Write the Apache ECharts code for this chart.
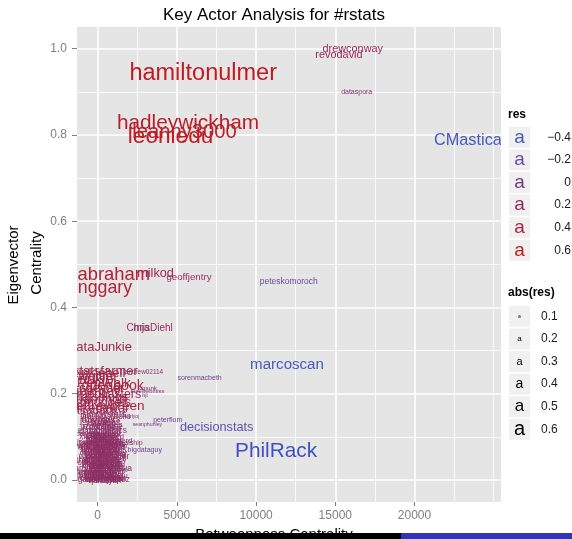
<!DOCTYPE html>
<html>
<head>
<meta charset="utf-8">
<title>Key Actor Analysis for #rstats</title>
<script src="https://cdn.jsdelivr.net/npm/echarts@6/dist/echarts.min.js"></script>
<style>
    html, body { margin: 0; padding: 0; background: #fff; }
    #chart { width: 572px; height: 539px; }
</style>
</head>
<body>
<div id="chart"></div>
<script>
// [name, betweenness, eigenvector, res]
const keyActors = [
    ['hamiltonulmer', 6660, 0.943, 0.65],
    ['hadleywickham', 5700, 0.826, 0.56],
    ['leanny3000', 5480, 0.807, 0.54],
    ['leoniedu', 4600, 0.796, 0.62],
    ['drewconway', 16100, 1.000, 0.23],
    ['revodavid', 15230, 0.986, 0.23],
    ['dataspora', 16350, 0.900, 0.10],
    ['CMastication', 24200, 0.787, -0.41],
    ['jonabraham', 240, 0.475, 0.48],
    ['jonggary', 20, 0.444, 0.46],
    ['milkod', 3650, 0.478, 0.29],
    ['geoffjentry', 5760, 0.471, 0.19],
    ['peteskomoroch', 12060, 0.461, -0.15],
    ['ChrisDiehl', 3280, 0.352, 0.20],
    ['mja', 2770, 0.352, 0.20],
    ['DataJunkie', 110, 0.308, 0.30],
    ['marcoscan', 11950, 0.268, -0.37],
    ['andrew02114', 2920, 0.251, 0.08],
    ['sorenmacbeth', 6430, 0.237, -0.10],
    ['cipunk', 3180, 0.213, 0.07],
    ['surewebmiss', 3140, 0.206, 0.06],
    ['hjl', 2990, 0.195, 0.05],
    ['earlyoj', 2150, 0.147, 0.03],
    ['peterflom', 4420, 0.139, -0.10],
    ['seanphunley', 3140, 0.129, -0.04],
    ['decisionstats', 7510, 0.122, -0.29],
    ['PhilRack', 11260, 0.066, -0.56],
    ['walship', 2100, 0.086, 0.10],
    ['bigdataguy', 2970, 0.070, -0.10],
    ['mcaffary', 1280, 0.024, 0.05]
];

// low-betweenness crowd near the origin
const crowdActors = [
    ['rstatsfarmer', 350, 0.252, 0.30],
    ['tinklebell', 150, 0.246, 0.30],
    ['aiqitler', 0, 0.240, 0.32],
    ['rinkle', -100, 0.232, 0.34],
    ['SPenWalk', 100, 0.224, 0.32],
    ['openbook', 950, 0.218, 0.34],
    ['cgeyser', 250, 0.212, 0.30],
    ['jbergey', 50, 0.206, 0.32],
    ['rpodcasters', 700, 0.198, 0.28],
    ['statsblogs', 150, 0.192, 0.28],
    ['quantmod', 0, 0.186, 0.30],
    ['kdnuggets', 300, 0.180, 0.28],
    ['jeffreybreen', 700, 0.172, 0.32],
    ['mikedewar', 100, 0.166, 0.28],
    ['tsadata', -100, 0.160, 0.26],
    ['simplystats', 400, 0.152, 0.16],
    ['timelyportfolio', 500, 0.146, 0.14],
    ['rbloggers', 200, 0.141, 0.18],
    ['jebyrnes', 0, 0.137, 0.18],
    ['rtweeps', 500, 0.133, 0.14],
    ['statalgo', 200, 0.130, 0.15],
    ['dmbates', 600, 0.127, 0.13],
    ['ozdatamine', 250, 0.124, 0.14],
    ['RevoJoe', 100, 0.121, 0.15],
    ['harlanh', 700, 0.118, 0.12],
    ['econometrics', 300, 0.115, 0.14],
    ['datamining', 150, 0.112, 0.15],
    ['ajdamico', 500, 0.110, 0.12],
    ['bayesianboy', 0, 0.107, 0.13],
    ['cdrstats', 400, 0.104, 0.12],
    ['rstudio', 350, 0.103, 0.15],
    ['dsparks', 200, 0.102, 0.14],
    ['xieyihui', -300, 0.100, 0.14],
    ['econjared', 600, 0.099, 0.12],
    ['gelman', 650, 0.097, 0.14],
    ['fdaviz', -100, 0.096, 0.13],
    ['gstatsguy', 300, 0.094, 0.12],
    ['jhlchan', 150, 0.093, 0.16],
    ['hrbrmstr', 700, 0.091, 0.11],
    ['geostatsnerd', 800, 0.090, 0.12],
    ['mariuz', 500, 0.089, 0.15],
    ['isomorphism', 100, 0.088, 0.13],
    ['jaypeeking', 450, 0.086, 0.12],
    ['timtriche', -150, 0.085, 0.16],
    ['kwbroman', 250, 0.083, 0.13],
    ['spatialstats', 400, 0.081, 0.15],
    ['pauldix', 600, 0.080, 0.12],
    ['walkingrandom', 300, 0.078, 0.11],
    ['wrathematics', 150, 0.077, 0.16],
    ['stevenliaw', 0, 0.075, 0.13],
    ['databeat', 700, 0.074, 0.14],
    ['nzstats', 500, 0.072, 0.12],
    ['tjmahr', -300, 0.070, 0.14],
    ['fonnesbeck', 200, 0.070, 0.13],
    ['lukeprog', 300, 0.069, 0.16],
    ['ryanrosario', 650, 0.067, 0.11],
    ['rmflight', -100, 0.066, 0.16],
    ['msteinberg', 100, 0.064, 0.13],
    ['jtleek', 450, 0.062, 0.12],
    ['kevinushey', 500, 0.061, 0.15],
    ['dtkaplan', 900, 0.060, 0.11],
    ['hspter', 250, 0.059, 0.13],
    ['bbolker', 150, 0.057, 0.16],
    ['statsmodels', 600, 0.056, 0.11],
    ['kaggle', -100, 0.054, 0.13],
    ['westonplatter', 400, 0.053, 0.15],
    ['tomhopper', 400, 0.051, 0.12],
    ['romain_f', 700, 0.050, 0.14],
    ['smthomas', 200, 0.048, 0.13],
    ['thomasp85', 0, 0.046, 0.16],
    ['analyticsguy', 550, 0.046, 0.11],
    ['jtpaasch', 0, 0.043, 0.13],
    ['noamross', 300, 0.042, 0.16],
    ['opencpu', -300, 0.040, 0.14],
    ['bayesrules', 400, 0.040, 0.12],
    ['dgrtwo', 600, 0.038, 0.15],
    ['mdsumner', 200, 0.038, 0.13],
    ['ggplot2fan', 600, 0.035, 0.12],
    ['jcheng', 100, 0.034, 0.16],
    ['cranberry', 100, 0.032, 0.13],
    ['lpachter', 850, 0.030, 0.11],
    ['juliasilge', 450, 0.030, 0.15],
    ['statsgeek', 450, 0.030, 0.12],
    ['lmfitter', 250, 0.027, 0.13],
    ['ramnath_vaidya', 250, 0.026, 0.15],
    ['datavizguy', 550, 0.024, 0.12],
    ['knitrfan', 0, 0.022, 0.14],
    ['sckottie', 650, 0.021, 0.14],
    ['sweaveuser', 350, 0.019, 0.13],
    ['expersso', -100, 0.018, 0.16],
    ['plyrlover', 150, 0.016, 0.14],
    ['kbroman', -300, 0.015, 0.14],
    ['rcppdev', 500, 0.014, 0.12],
    ['rdpeng', 350, 0.013, 0.16],
    ['bioconductor', 250, 0.011, 0.13],
    ['wmlandau', 800, 0.010, 0.12],
    ['daattali', 100, 0.009, 0.16],
    ['cboettig', 600, 0.008, 0.12],
    ['eddelbuettel', 200, 0.006, 0.13],
    ['lionel_', 500, 0.005, 0.15],
    ['flowingdata', 450, 0.003, 0.13],
    ['robjhyndman', 250, 0.002, 0.15],
    ['gaborcsardi', 100, 0.001, 0.14],
    ['statsbylopez', 600, 0.000, 0.14],
    ['jenbryan', 550, -0.001, 0.12],
    ['nmatloff', 300, -0.003, 0.13]
];

const xTicks = [0, 5000, 10000, 15000, 20000];
const xGrid = [0, 2500, 5000, 7500, 10000, 12500, 15000, 17500, 20000, 22500, 25000];
const yTicks = [0, 0.2, 0.4, 0.6, 0.8, 1.0];
const yGrid = [0, 0.1, 0.2, 0.3, 0.4, 0.5, 0.6, 0.7, 0.8, 0.9, 1.0];
const resBreaks = [-0.4, -0.2, 0, 0.2, 0.4, 0.6];
const absBreaks = [0.1, 0.2, 0.3, 0.4, 0.5, 0.6];

const FONT = '"Liberation Sans", Arial, Helvetica, sans-serif';

// colour ramp blue -> purple -> red
const colorStops = [
    [-0.56, [64, 80, 192]],
    [-0.4, [72, 88, 190]],
    [-0.2, [102, 78, 166]],
    [0, [120, 54, 122]],
    [0.2, [150, 44, 92]],
    [0.4, [172, 36, 62]],
    [0.6, [192, 28, 36]],
    [0.7, [198, 24, 30]]
];
function resColor(v) {
    if (v <= colorStops[0][0]) return 'rgb(' + colorStops[0][1].join(',') + ')';
    for (let i = 1; i < colorStops.length; i++) {
        const [v1, c1] = colorStops[i];
        const [v0, c0] = colorStops[i - 1];
        if (v <= v1) {
            const t = (v - v0) / (v1 - v0);
            const c = c0.map((a, k) => Math.round(a + (c1[k] - a) * t));
            return 'rgb(' + c.join(',') + ')';
        }
    }
    return 'rgb(' + colorStops[colorStops.length - 1][1].join(',') + ')';
}
function resSize(v) {
    return 4 + 30 * Math.abs(v);
}

function toItem(row) {
    const [name, b, e, r] = row;
    return {
        name: name,
        value: [b, e],
        label: { fontSize: resSize(r), color: resColor(r) }
    };
}
// crowd first so key actors sit on top
const textData = crowdActors.map(toItem).concat(keyActors.map(toItem));

const gridLines = []
    .concat(xGrid.map(v => ({
        xAxis: v,
        lineStyle: { color: '#ffffff', width: xTicks.includes(v) ? 1.6 : 0.8, type: 'solid' }
    })))
    .concat(yGrid.map(v => ({
        yAxis: v,
        lineStyle: { color: '#ffffff', width: yTicks.some(t => Math.abs(t - v) < 1e-9) ? 1.6 : 0.8, type: 'solid' }
    })));

const chartInstance = echarts.init(document.getElementById('chart'));

const legendGraphics = [];
legendGraphics.push({
    type: 'text', left: 508, top: 109, z: 80,
    style: { text: 'res', font: 'bold 12px ' + FONT, fill: '#000' }
});
resBreaks.forEach((v, i) => {
    const cy = 137.3 + i * 22.6;
    legendGraphics.push({
        type: 'rect', z: 80,
        shape: { x: 509, y: cy - 10.5, width: 21, height: 21 },
        style: { fill: '#f0f0f0' }
    });
    legendGraphics.push({
        type: 'text', z: 81, x: 519.5, y: cy,
        style: { text: 'a', fontFamily: FONT, fontSize: 19, fill: resColor(v), align: 'center', verticalAlign: 'middle' }
    });
    legendGraphics.push({
        type: 'text', z: 81, x: 571, y: cy,
        style: { text: (v < 0 ? '\u2212' : '') + (v === 0 ? '0' : Math.abs(v).toFixed(1)), fontFamily: FONT, fontSize: 12, fill: '#1a1a1a', align: 'right', verticalAlign: 'middle' }
    });
});
legendGraphics.push({
    type: 'text', left: 508, top: 287, z: 80,
    style: { text: 'abs(res)', font: 'bold 12px ' + FONT, fill: '#000' }
});
absBreaks.forEach((v, i) => {
    const cy = 316.3 + i * 22.6;
    legendGraphics.push({
        type: 'rect', z: 80,
        shape: { x: 509, y: cy - 10.5, width: 21, height: 21 },
        style: { fill: '#f0f0f0' }
    });
    legendGraphics.push({
        type: 'text', z: 81, x: 519.5, y: cy,
        style: { text: 'a', fontFamily: FONT, fontSize: 2 + 30 * v, fill: '#000', align: 'center', verticalAlign: 'middle' }
    });
    legendGraphics.push({
        type: 'text', z: 81, x: 541, y: cy,
        style: { text: v.toFixed(1), fontFamily: FONT, fontSize: 12, fill: '#1a1a1a', align: 'left', verticalAlign: 'middle' }
    });
});

const option = {
    animation: false,
    grid: {
        left: 77, right: 71, top: 27, bottom: 37,
        show: true, backgroundColor: '#e5e5e5', borderWidth: 0
    },
    xAxis: {
        type: 'value', min: -1307, max: 25460, z: 60,
        axisLine: { show: false, onZero: false },
        splitLine: { show: false },
        axisTick: { show: true, length: 4, customValues: xTicks, lineStyle: { color: '#7f7f7f' } },
        axisLabel: {
            customValues: xTicks, color: '#7f7f7f', fontSize: 12, fontFamily: FONT, margin: 8,
            formatter: (v) => String(v)
        }
    },
    yAxis: {
        type: 'value', min: -0.051, max: 1.0503, z: 60,
        axisLine: { show: false, onZero: false },
        splitLine: { show: false },
        axisTick: { show: true, length: 5, customValues: yTicks, lineStyle: { color: '#7f7f7f' } },
        axisLabel: {
            customValues: yTicks, color: '#7f7f7f', fontSize: 12, fontFamily: FONT, margin: 10,
            formatter: (v) => v.toFixed(1)
        }
    },
    series: [
        {
            // panel grid lines
            type: 'scatter', z: 1, data: [], silent: true,
            markLine: {
                z: 1, silent: true, symbol: ['none', 'none'], animation: false,
                label: { show: false },
                data: gridLines
            }
        },
        {
            type: 'scatter', z: 10, silent: true,
            symbolSize: 0,
            itemStyle: { opacity: 1 },
            data: textData,
            label: {
                show: true, position: 'inside', formatter: '{b}',
                fontFamily: FONT, opacity: 1
            },
            labelLayout: { hideOverlap: false }
        }
    ],
    graphic: [
        // clip text outside the panel
        { type: 'rect', z: 50, shape: { x: 0, y: 0, width: 77, height: 539 }, style: { fill: '#fff' } },
        { type: 'rect', z: 50, shape: { x: 501, y: 0, width: 71, height: 539 }, style: { fill: '#fff' } },
        { type: 'rect', z: 50, shape: { x: 77, y: 0, width: 424, height: 27 }, style: { fill: '#fff' } },
        {
            type: 'text', z: 70, x: 274, y: 15,
            style: { text: 'Key Actor Analysis for #rstats', fontFamily: FONT, fontSize: 17, fill: '#000', align: 'center', verticalAlign: 'middle' }
        },
        {
            type: 'text', z: 70, x: 14, y: 265, rotation: Math.PI / 2,
            style: { text: 'Eigenvector', fontFamily: FONT, fontSize: 15, fill: '#000', align: 'center', verticalAlign: 'middle' }
        },
        {
            type: 'text', z: 70, x: 37, y: 263, rotation: Math.PI / 2,
            style: { text: 'Centrality', fontFamily: FONT, fontSize: 15, fill: '#000', align: 'center', verticalAlign: 'middle' }
        },
        {
            type: 'text', z: 70, x: 274, y: 535,
            style: { text: 'Betweenness Centrality', fontFamily: FONT, fontSize: 15, fill: '#000', align: 'center', verticalAlign: 'middle' }
        },
        // strip along the bottom edge of the screenshot
        { type: 'rect', z: 90, shape: { x: 0, y: 533, width: 401, height: 6 }, style: { fill: '#000' } },
        { type: 'rect', z: 90, shape: { x: 401, y: 533, width: 171, height: 6 }, style: { fill: '#3434b4' } }
    ].concat(legendGraphics)
};

chartInstance.setOption(option);
</script>
</body>
</html>
